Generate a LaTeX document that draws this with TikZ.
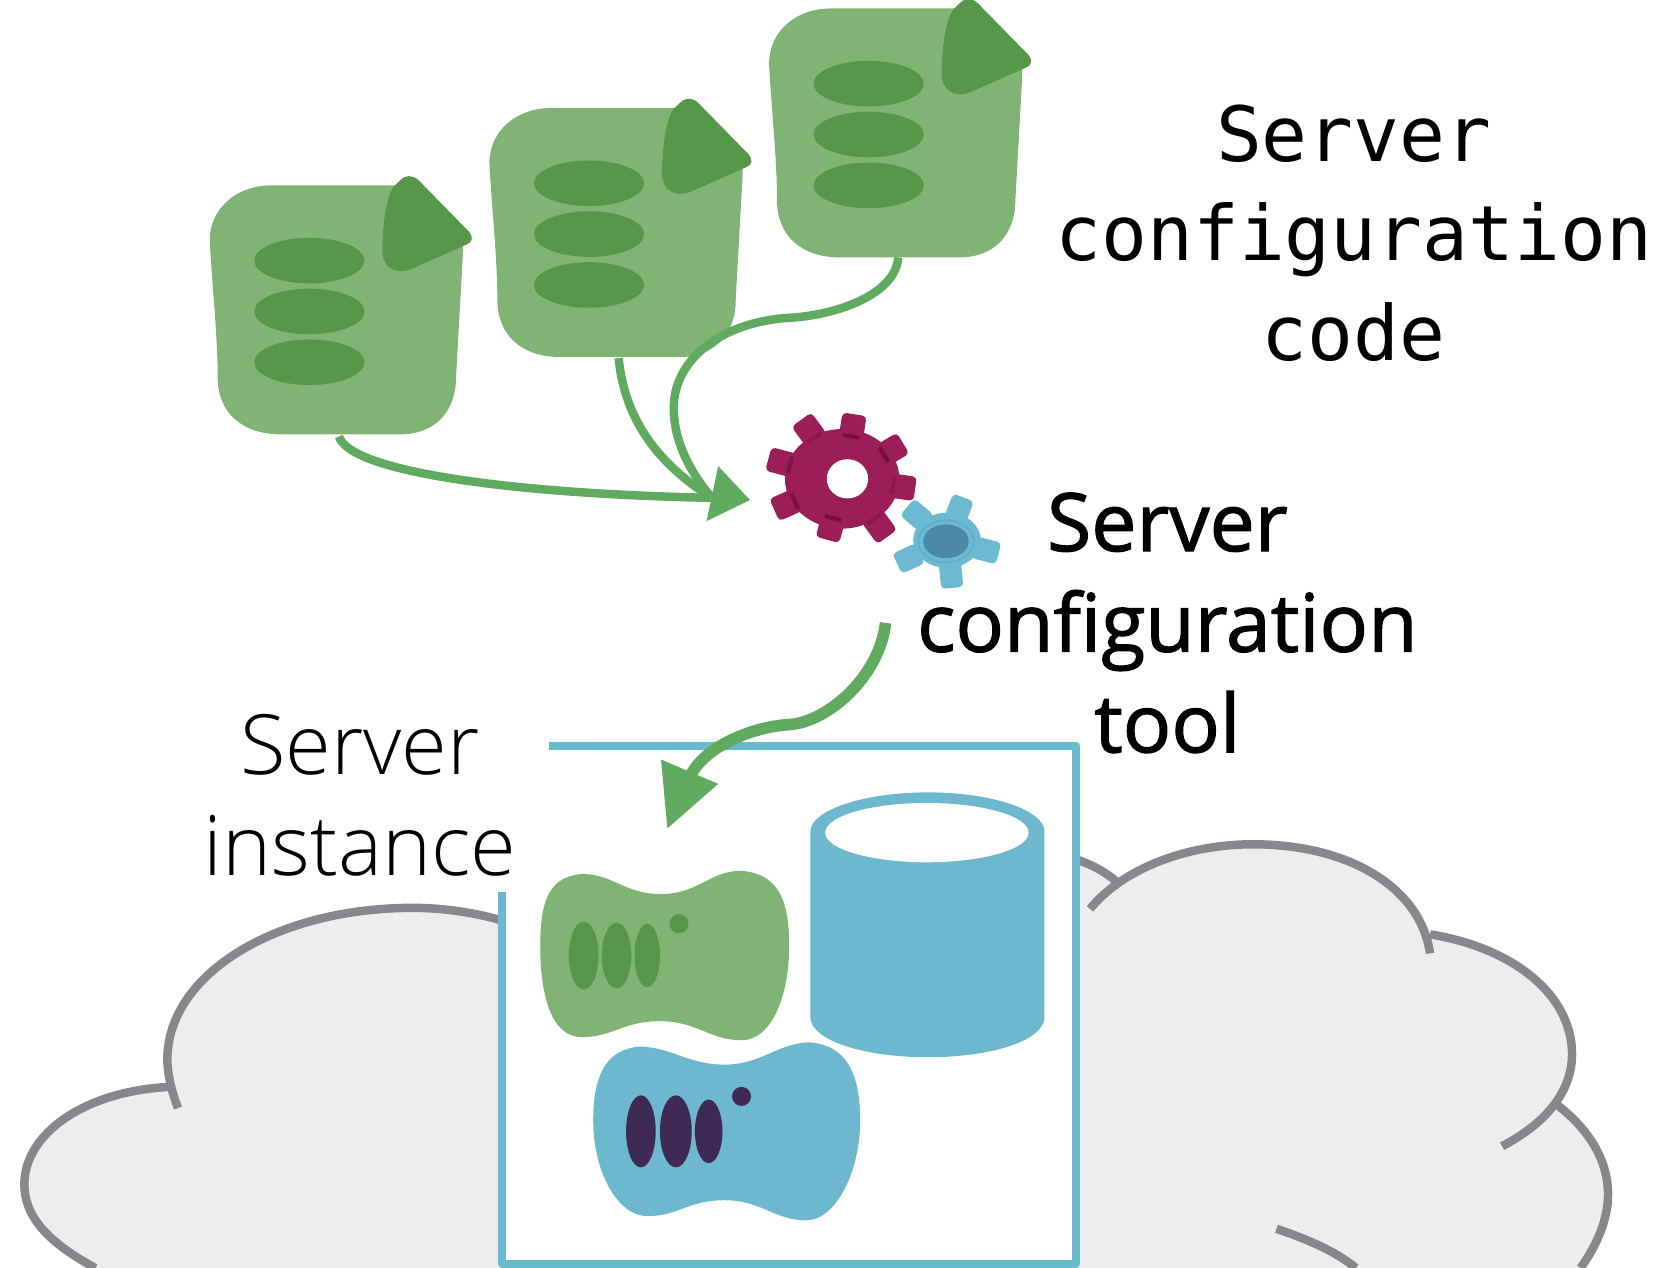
\documentclass[tikz,border=0pt]{standalone}
\usepackage{fontspec}
\setmainfont{Open Sans}
\newfontfamily\lightfont{Open Sans Light}
\newfontfamily\toolfont[FakeBold=1.5]{Open Sans}
\newfontfamily\codefont{DejaVu Sans Mono}
\usetikzlibrary{calc}
\definecolor{docgreen}{HTML}{7FB474}
\definecolor{darkgreen}{HTML}{56974A}
\definecolor{arrowgreen}{HTML}{60AB60}
\definecolor{cyanblue}{HTML}{6DB8CF}
\definecolor{boxblue}{HTML}{69BACC}
\definecolor{crimson}{HTML}{9B1E58}
\definecolor{crimsondark}{HTML}{6E0D3A}
\definecolor{gearblue}{HTML}{6CBAD2}
\definecolor{gearring}{HTML}{5FAEC6}
\definecolor{gearcore}{HTML}{4E88A8}
\definecolor{purpledark}{HTML}{3F2A56}
\definecolor{cloudfill}{HTML}{EDEDED}
\definecolor{cloudline}{HTML}{87888C}
\tikzset{
  x=1pt,y=-1pt,
  docpic/.pic={
    \fill[docgreen] (0,60) .. controls (0,30) and (25,8) .. (58,8) -- (185,8) -- (239,60) -- (239,72) -- (232.5,189) .. controls (232.5,222) and (212,243) .. (180,243) -- (67,243) .. controls (30,243) and (7.5,222) .. (7.5,189) .. controls (7.5,150) and (2,100) .. cycle;
    \fill[darkgreen] (180,3) .. controls (184,-2) and (192,-2) .. (197,3) -- (245,52) .. controls (249,57) and (248,62) .. (242,64) -- (190,87) .. controls (175,93) and (163,85) .. (163,70) .. controls (163,50) and (165,30) .. (171,14) .. controls (173,9) and (177,6) .. cycle;
    \fill[darkgreen] (94,79) ellipse [x radius=52,y radius=21.5];
    \fill[darkgreen] (94,127) ellipse [x radius=52,y radius=21.5];
    \fill[darkgreen] (94,175) ellipse [x radius=52,y radius=21.5];
  },
  conn/.style={draw=arrowgreen,line width=8pt},
  cloudstroke/.style={draw=cloudline,line width=8pt},
  tooth/.style={rounded corners=4pt},
  label/.style={align=center,inner sep=0pt}
}
\newcommand{\blobshape}[8]{%
  (#1) .. controls +(30,0) and +(-35,0) .. (#2) .. controls +(35,0) and +(-30,0) .. (#3)
  .. controls +(32,3) and +(0,-48) .. (#4) .. controls +(0,48) and +(28,0) .. (#5)
  .. controls +(-30,0) and +(35,0) .. (#6) .. controls +(-35,0) and +(30,0) .. (#7)
  .. controls +(-28,0) and +(0,48) .. (#8) .. controls +(0,-48) and +(-28,3) .. (#1) -- cycle}
\begin{document}
\begin{tikzpicture}
\useasboundingbox (0,0) rectangle (1568,1197);
% cloud
\fill[cloudfill] (90,1197) .. controls (40,1170) and (23,1145) .. (23,1118) .. controls (23,1070) and (80,1030) .. (158,1026) -- (158,1000) .. controls (158,920) and (260,857) .. (390,857) .. controls (420,857) and (450,862) .. (474,869) -- (1018,812) .. controls (1035,818) and (1048,826) .. (1058,836) .. controls (1090,810) and (1130,797) .. (1183,797) .. controls (1270,797) and (1340,835) .. (1350,882) .. controls (1430,895) and (1484,940) .. (1484,995) .. controls (1484,1010) and (1478,1025) .. (1466,1040) .. controls (1500,1065) and (1518,1095) .. (1518,1128) .. controls (1518,1150) and (1508,1175) .. (1492,1197) -- cycle;
\draw[cloudstroke] (90,1197) .. controls (40,1170) and (23,1145) .. (23,1118) .. controls (23,1070) and (80,1030) .. (160,1026);
\draw[cloudstroke] (168,1046) .. controls (160,1025) and (158,1010) .. (158,1000) .. controls (158,920) and (260,857) .. (390,857) .. controls (420,857) and (450,862) .. (474,869);
\draw[cloudstroke] (1018,812) .. controls (1035,818) and (1048,826) .. (1058,836);
\draw[cloudstroke] (1029,858) .. controls (1060,820) and (1120,797) .. (1183,797) .. controls (1270,797) and (1340,835) .. (1350,900);
\draw[cloudstroke] (1350,882) .. controls (1430,895) and (1484,940) .. (1484,995) .. controls (1484,1030) and (1460,1060) .. (1418,1082);
\draw[cloudstroke] (1466,1040) .. controls (1500,1065) and (1518,1095) .. (1518,1128) .. controls (1518,1150) and (1508,1175) .. (1492,1197);
\draw[cloudstroke] (1205,1160) .. controls (1235,1170) and (1262,1182) .. (1280,1197);
% server instance box
\fill[white] (474,842) -- (474,720) -- (518,704) -- (1016,704) -- (1016,1193) -- (474,1193) -- cycle;
\draw[boxblue,line width=7.5pt,line join=round] (518,704) -- (1016,704) -- (1016,1193) -- (474,1193) -- (474,842);
% documents
\pic at (726,0) {docpic};
\pic at (462,94) {docpic};
\pic at (198,167) {docpic};
% coordinates of connector ends
\coordinate (docA) at (320,412);
\coordinate (docB) at (584,338);
\coordinate (docC) at (848,243);
\coordinate (toolIn) at (672,470);
\coordinate (toolOut) at (836,588);
\coordinate (srvIn) at (652,732);
% connectors
\draw[conn] (docA) .. controls (330,445) and (480,466) .. (toolIn);
\draw[conn] (docB) .. controls (590,400) and (625,440) .. (toolIn);
\draw[conn] (docC) .. controls (845,280) and (785,298) .. (745,300) .. controls (680,304) and (636,340) .. (636,385) .. controls (636,420) and (655,450) .. (toolIn);
\fill[arrowgreen] (708,472) -- (678,440) -- (667,492) -- cycle;
% gears
\foreach \px/\py/\ang in {763/405/36,805/402/-9,843/424/-59,853/460/-98,831/498/-144,784/499/165,741/477/114,736/436/75}
  \fill[crimson,tooth,shift={(\px,\py)},rotate=\ang] (-11.5,-11) rectangle (11.5,14);
\fill[crimson] (795,452) ellipse [x radius=54,y radius=47];
\foreach \px/\py/\ang/\shade in {763/405/36/.35,805/402/-9/.8,843/424/-59/.8,853/460/-98/.4,831/498/-144/.4,784/499/165/.8,741/477/114/.7,736/436/75/.6}
  \fill[crimsondark,opacity=\shade,shift={(\px,\py)},rotate=\ang] (-8,8) rectangle (8,12);
\fill[white] (800,452) ellipse [x radius=19.5,y radius=18.5];
\foreach \px/\py/\ang in {864/485/50,906/479/-21,933/520/-104,898/545/-174,856/528/115}
  \fill[gearblue,tooth,shift={(\px,\py)},rotate=\ang] (-10.5,-10) rectangle (10.5,14);
\fill[gearblue] (894,510) ellipse [x radius=32,y radius=26];
\draw[gearring,line width=1.5pt] (893,511) ellipse [x radius=26,y radius=20];
\fill[gearcore] (893,511) ellipse [x radius=21.5,y radius=16];
% tool arrow
\draw[conn,line width=11pt] (toolOut) .. controls (830,640) and (780,682) .. (745,684) .. controls (710,686) and (665,705) .. (srvIn);
\fill[arrowgreen] (630,782) -- (624,717) -- (678,740) -- cycle;
% database
\fill[cyanblue] (765,785) .. controls (765,765) and (815,748) .. (876,748) .. controls (937,748) and (986,765) .. (986,785) -- (986,960) .. controls (986,982) and (937,998) .. (876,998) .. controls (815,998) and (765,982) .. (765,960) -- cycle;
\fill[white] (875,786) ellipse [x radius=96,y radius=28];
% green server
\fill[docgreen] \blobshape{549,825}{624,844}{700,822}{745,893}{700,982}{623,964}{549,979}{510,893};
\fill[darkgreen] (551,902) ellipse [x radius=14,y radius=32];
\fill[darkgreen] (582,902) ellipse [x radius=14,y radius=31];
\fill[darkgreen] (611,902) ellipse [x radius=12,y radius=30];
\fill[darkgreen] (641,872) circle [radius=9];
% blue server
\fill[cyanblue] \blobshape{603,988}{684,1005}{765,984}{812,1058}{761,1152}{684,1133}{611,1148}{560,1058};
\fill[purpledark] (605,1068) ellipse [x radius=14,y radius=34];
\fill[purpledark] (638,1068) ellipse [x radius=15,y radius=34];
\fill[purpledark] (669,1068) ellipse [x radius=13,y radius=30];
\fill[purpledark] (700,1035) circle [radius=9];
% labels
\node[label,font=\codefont\fontsize{72}{94}\selectfont] (codeLabel) at (1278,220) {Server\\configuration\\code};
\node[label,font=\toolfont\fontsize{76}{95}\selectfont] (toolLabel) at (1102,588) {Server\\configuration\\tool};
\node[label,font=\lightfont\fontsize{78.5}{95}\selectfont] (instLabel) at (340,751) {Server\\instance};
\end{tikzpicture}
\end{document}
